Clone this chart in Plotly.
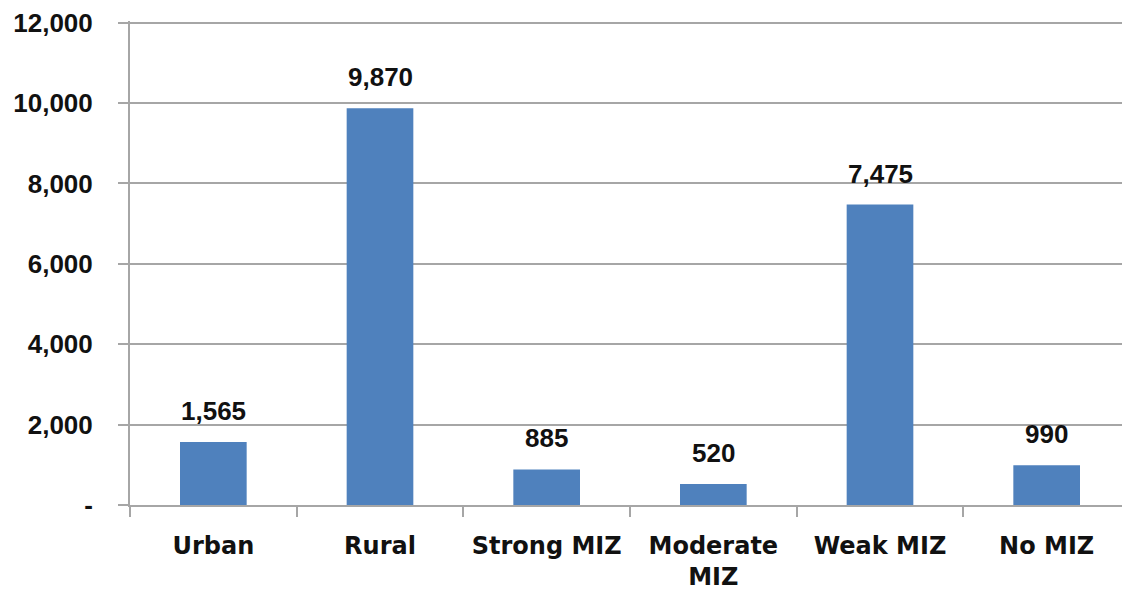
import plotly.graph_objects as go

categories = ["Urban", "Rural", "Strong MIZ", "Moderate<br>MIZ", "Weak MIZ", "No MIZ"]
values = [1565, 9870, 885, 520, 7475, 990]
labels = ["1,565", "9,870", "885", "520", "7,475", "990"]
y_tickvals = [0, 2000, 4000, 6000, 8000, 10000, 12000]
y_ticktext = ["-", "2,000", "4,000", "6,000", "8,000", "10,000", "12,000"]

grey = "#A6A6A6"
num_font = dict(family="Liberation Sans, Arial, sans-serif", size=26, color="#111111")
cat_font = dict(family="DejaVu Sans, sans-serif", size=24, color="#111111")

fig = go.Figure()
fig.add_trace(go.Bar(x=categories, y=values, marker=dict(color="#4F81BD", line=dict(width=0)),
                     hoverinfo="skip"))

for c, v, t in zip(categories, values, labels):
    fig.add_annotation(x=c, y=v, text="<b>%s</b>" % t, showarrow=False, yanchor="bottom",
                       yshift=14, font=num_font)

# page body has an 8px margin, so the figure is offset by 8px
fig.update_layout(
    width=1122, height=588,
    margin=dict(l=122, r=0, t=7, b=91, pad=0),
    paper_bgcolor="white", plot_bgcolor="white",
    bargap=0.6, showlegend=False,
)
fig.update_xaxes(
    type="category", tickson="boundaries", ticks="outside", ticklen=10, tickcolor=grey, tickwidth=2,
    showline=True, linecolor=grey, linewidth=2, tickfont=dict(cat_font, weight="bold"),
    showgrid=False, ticklabelstandoff=18, ticklabeloverflow="allow",
)
fig.update_yaxes(
    range=[0, 12040], tickvals=y_tickvals, ticktext=y_ticktext, ticks="outside", ticklen=10,
    tickcolor=grey, tickwidth=2, showline=True, linecolor=grey, linewidth=2,
    showgrid=True, gridcolor=grey, gridwidth=2, zeroline=False,
    tickfont=dict(num_font, weight="bold"), ticklabelstandoff=20, ticklabeloverflow="allow",
)

fig.write_html("out.html")
